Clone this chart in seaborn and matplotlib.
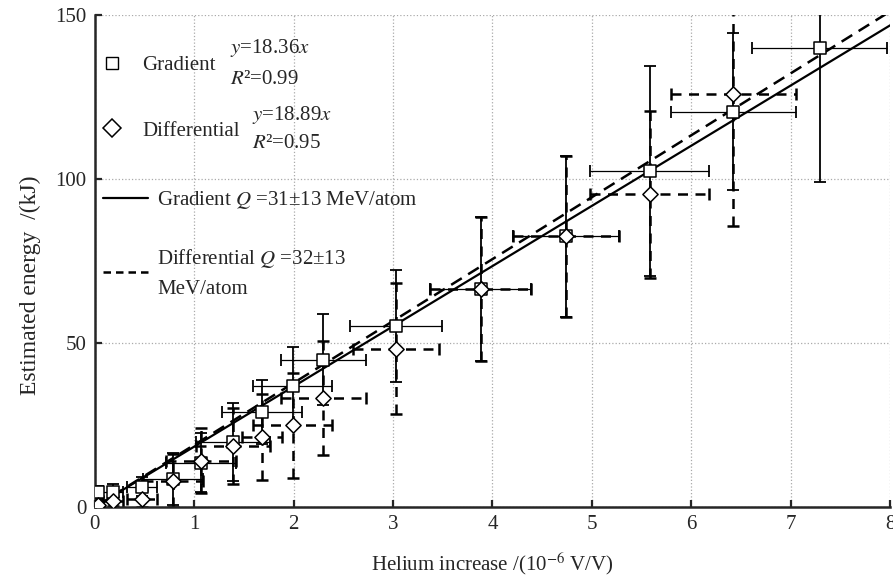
import numpy as np
import pandas as pd
import matplotlib
matplotlib.use('Agg')
import matplotlib.pyplot as plt
from matplotlib.lines import Line2D
import seaborn as sns

# values
grad_x = [0.03, 0.18, 0.48, 0.79, 1.07, 1.39, 1.68, 1.99, 2.30, 3.03, 3.88, 4.74, 5.58, 6.42, 7.29]
grad_y = [4.5, 4.5, 6.2, 8.5, 13.5, 19.8, 29.0, 36.9, 44.9, 55.1, 66.5, 82.5, 102.5, 120.5, 140.0]
grad_xerr = [0.03, 0.10, 0.15, 0.30, 0.35, 0.37, 0.40, 0.40, 0.43, 0.46, 0.51, 0.53, 0.60, 0.63, 0.68]
grad_yerr = [2.0, 2.5, 3.0, 8.0, 9.0, 12.0, 9.7, 12.0, 13.8, 17.0, 22.0, 24.5, 32.0, 24.0, 41.0]

diff_x = [0.03, 0.18, 0.48, 0.79, 1.07, 1.39, 1.68, 1.99, 2.30, 3.03, 3.88, 4.74, 5.58, 6.42]
diff_y = [0.5, 1.8, 2.5, 8.0, 14.1, 18.5, 21.3, 24.9, 33.1, 48.2, 66.5, 82.5, 95.3, 125.8]
diff_xerr = [0.03, 0.10, 0.15, 0.30, 0.35, 0.37, 0.20, 0.40, 0.43, 0.43, 0.51, 0.53, 0.60, 0.63]
diff_yerr = [1.0, 1.5, 2.5, 8.0, 10.0, 11.5, 13.0, 16.0, 17.4, 20.0, 22.0, 24.5, 25.5, 40.0]

grad_slope = 18.36
diff_slope = 18.89
fit_x = [0, 8]

x_ticks = [0, 1, 2, 3, 4, 5, 6, 7, 8]
y_ticks = [0, 50, 100, 150]

sns.set_theme(style='ticks')
plt.rcParams['font.family'] = ['Liberation Serif', 'DejaVu Serif']
plt.rcParams['mathtext.fontset'] = 'stix'

fig = plt.figure(figsize=(8.93, 5.76), dpi=100)
ax = fig.add_axes([0.106, 0.120, 0.891, 0.854])

grad = pd.DataFrame({'x': grad_x, 'y': grad_y})
diff = pd.DataFrame({'x': diff_x, 'y': diff_y})

# error bars
e1 = ax.errorbar(grad_x, grad_y, xerr=grad_xerr, yerr=grad_yerr, fmt='none',
                 ecolor='black', elinewidth=1.3, capsize=4, capthick=1.3, zorder=2)
e2 = ax.errorbar(diff_x, diff_y, xerr=diff_xerr, yerr=diff_yerr, fmt='none',
                 ecolor='black', elinewidth=1.8, capsize=4, capthick=1.8, zorder=2)
for lc in e2[2]:
    lc.set_linestyle((0, (4, 3)))
e1[2][0].set_linewidth(0.9)

# fitted lines
fits = pd.DataFrame({'x': fit_x,
                     'g': [grad_slope * v for v in fit_x],
                     'd': [diff_slope * v for v in fit_x]})
sns.lineplot(data=fits, x='x', y='g', color='black', lw=1.6, ax=ax, zorder=3)
sns.lineplot(data=fits, x='x', y='d', color='black', lw=1.8, ax=ax, zorder=3,
             linestyle=(0, (5, 3)))

sns.scatterplot(data=grad, x='x', y='y', marker='s', s=75, facecolor='white',
                edgecolor='black', linewidth=1.1, ax=ax, zorder=4)
sns.scatterplot(data=diff, x='x', y='y', marker='D', s=60, facecolor='white',
                edgecolor='black', linewidth=1.1, ax=ax, zorder=4)

ax.set_xlim(0, 8)
ax.set_ylim(0, 150)
ax.set_xticks(x_ticks)
ax.set_yticks(y_ticks)
ax.grid(True, linestyle=':', color='#aaaaaa', linewidth=0.9)
for s in ['top', 'right']:
    ax.spines[s].set_visible(False)
for s in ['left', 'bottom']:
    ax.spines[s].set_linewidth(1.8)
ax.tick_params(direction='in', length=5, width=1.6, labelsize=15, pad=6)

ax.set_xlabel('Helium increase /(10$^{-6}$ V/V)', fontsize=15, labelpad=12)
ax.set_ylabel('Estimated energy  /(kJ)', fontsize=17, labelpad=10, y=0.45)

# legend: marker entries
mark_handles = [
    Line2D([], [], marker='s', ls='none', mfc='white', mec='black', ms=8, mew=1.0),
    Line2D([], [], marker='D', ls='none', mfc='white', mec='black', ms=9, mew=1.1),
]
leg1 = ax.legend(mark_handles, ['Gradient', 'Differential'], loc='upper left',
                 bbox_to_anchor=(-0.008, 0.947), frameon=False, fontsize=15,
                 labelspacing=2.2, handlelength=0.9, handletextpad=1.0,
                 borderaxespad=0.3)
ax.add_artist(leg1)

# legend: line entries
line_handles = [
    Line2D([], [], color='black', lw=1.6),
    Line2D([], [], color='black', lw=1.8, ls=(0, (3, 2))),
]
leg2 = ax.legend(line_handles, ['Gradient $Q$ =31±13 MeV/atom',
                                'Differential $Q$ =32±13\nMeV/atom'],
                 loc='upper left', bbox_to_anchor=(-0.0075, 0.675), frameon=False,
                 fontsize=15, labelspacing=1.7, handlelength=2.15,
                 handletextpad=0.45, borderaxespad=0.3)
for t in leg2.get_texts():
    t.set_linespacing(1.7)

fig.text(230 / 893, 1 - 48 / 576, '$y$=18.36$x$', fontsize=15, va='center')
fig.text(230 / 893, 1 - 79 / 576, '$R$²=0.99', fontsize=15, va='center')
fig.text(252 / 893, 1 - 115 / 576, '$y$=18.89$x$', fontsize=15, va='center')
fig.text(252 / 893, 1 - 144 / 576, '$R$²=0.95', fontsize=15, va='center')

fig.savefig('out.png', dpi=100)
